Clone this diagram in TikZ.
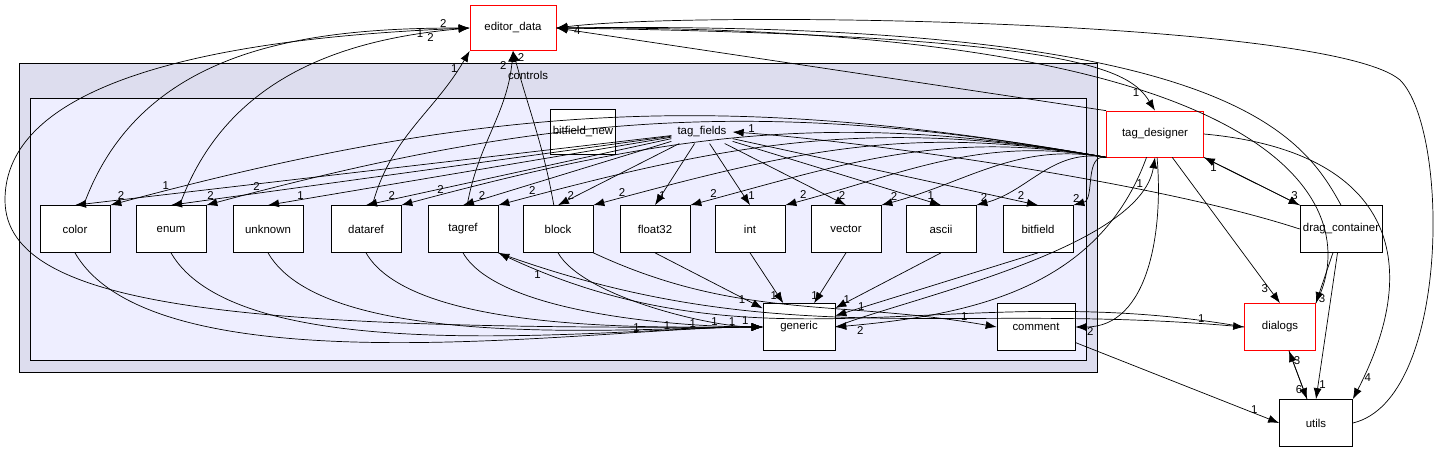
\documentclass[tikz,border=0pt]{standalone}
\usepackage{fontspec}
\setmainfont{Liberation Sans}
\usetikzlibrary{arrows.meta, positioning}
\definecolor{outerfill}{HTML}{DDDDEE}
\definecolor{innerfill}{HTML}{EEEEFF}
\definecolor{redborder}{HTML}{FF0000}
\tikzset{
    dir/.style={draw, fill=white, minimum width=1.4cm, minimum height=0.94cm, inner sep=0mm},
    reddir/.style={dir, draw=redborder},
    lbl/.style={font=\fontsize{6.5}{7}\selectfont, inner sep=0.5pt, fill=none},
    dep/.style={->, >={Latex[length=2.2mm, width=1.6mm]}}
}
\begin{document}
\begin{tikzpicture}[x=0.02cm, y=-0.02cm, font=\fontsize{6.5}{7}\selectfont]
    \useasboundingbox (0,0) rectangle (1456,452);
    % clusters
    \draw[fill=outerfill] (19,63) rectangle (1097,372);
    \node[lbl] (controlslbl) at (528,75) {controls};
    \draw[fill=innerfill] (30,98) rectangle (1086,360);
    % nodes
    \node[reddir, minimum width=1.72cm, minimum height=0.9cm] (editor_data) at (513,28) {editor\_data};
    \node[dir, minimum width=1.3cm, minimum height=0.9cm] (bitfield_new) at (583,132) {bitfield\_new};
    \node (tag_fields) at (702,132) {tag\_fields};
    \node[dir] (color) at (75,229) {color};
    \node[dir] (enum) at (171,229) {enum};
    \node[dir] (unknown) at (268,229) {unknown};
    \node[dir] (dataref) at (366,229) {dataref};
    \node[dir] (tagref) at (463,229) {tagref};
    \node[dir] (block) at (558,229) {block};
    \node[dir] (float32) at (655,229) {float32};
    \node[dir] (int) at (750,229) {int};
    \node[dir] (vector) at (846,229) {vector};
    \node[dir] (ascii) at (941,229) {ascii};
    \node[dir] (bitfield) at (1038,229) {bitfield};
    \node[dir, minimum width=1.44cm] (generic) at (799,327) {generic};
    \node[dir, minimum width=1.56cm] (comment) at (1036,327) {comment};
    \node[reddir, minimum width=1.94cm, minimum height=0.92cm] (tag_designer) at (1155,134) {tag\_designer};
    \node[dir, minimum width=1.64cm] (drag_container) at (1341,229) {drag\_container};
    \node[reddir, minimum width=1.42cm] (dialogs) at (1280,327) {dialogs};
    \node[dir, minimum width=1.46cm] (utils) at (1316,423) {utils};
    % tag_fields to row
    \foreach \t/\l in {color/2, enum/2, unknown/1, dataref/2, tagref/2, block/2, float32/1, int/1, vector/2, ascii/1, bitfield/2}
        \draw[dep] (tag_fields) -- node[lbl, pos=0.93, above right] {\l} (\t.north);
    % row to editor_data
    \draw[dep] (color) to[out=70, in=180] node[lbl, pos=0.9, below] {1} (editor_data.west);
    \draw[dep] (enum) to[out=70, in=185] node[lbl, pos=0.9, below] {2} (editor_data.west);
    \draw[dep] (dataref) to[out=75, in=240] node[lbl, pos=0.9, left] {1} (editor_data.south west);
    \draw[dep] (tagref) to[out=80, in=265] node[lbl, pos=0.92, left=2pt] {2} (editor_data.south);
    \draw[dep] (block) to[out=100, in=285] node[lbl, pos=0.96, right=1pt] {2} (editor_data.south);
    \draw[dep] (generic.west) .. controls (250,330) and (5,310) .. (5,200)
        .. controls (5,60) and (300,35) .. node[lbl, pos=0.95, above] {2} (editor_data.west);
    % row to generic
    \foreach \s/\p in {color/0.8, enum/0.82, unknown/0.84, dataref/0.86, tagref/0.88, block/0.9}
        \draw[dep] (\s.south) to[out=-60, in=180, looseness=0.6] node[lbl, pos=\p, above] {1} (generic.west);
    \foreach \s in {float32, int, vector, ascii, bitfield}
        \draw[dep] (\s.south) -- node[lbl, pos=0.85, left] {1} (generic);
    % tagref, block, dialogs, comment
    \draw[dep] (tagref.south east) to[out=-20, in=175] node[lbl, pos=0.95, above] {1} (dialogs.west);
    \draw[dep] (dialogs.west) to[out=170, in=-25] node[lbl, pos=0.95, below] {1} (tagref.south east);
    \draw[dep] (block.south east) to[out=-25, in=170] node[lbl, pos=0.93, above] {1} (comment.west);
    % tag_designer outgoing
    \foreach \t/\l in {color/1, enum/2, dataref/2, tagref/2, block/2, float32/2, int/2, vector/2, ascii/2, bitfield/2}
        \draw[dep] (tag_designer.south west) to[out=170, in=15] node[lbl, pos=0.95, above] {\l} (\t.north east);
    \draw[dep] (tag_designer.north west) -- node[lbl, pos=0.97, right] {4} (editor_data.east);
    \draw[dep] (tag_designer) to[out=-110, in=5] node[lbl, pos=0.95, below right] {2} (generic.east);
    \draw[dep] (tag_designer) to[out=-85, in=0] node[lbl, pos=0.95, below right] {2} (comment.east);
    \draw[dep] (tag_designer) -- node[lbl, pos=0.9, left] {3} (dialogs.north);
    \draw[dep] (tag_designer.south east) -- node[lbl, pos=0.9, above right] {3} (drag_container.north west);
    \draw[dep] (tag_designer.east) .. controls (1380,150) and (1430,250) .. node[lbl, pos=0.95, right] {4} (utils.north east);
    % incoming to tag_designer
    \draw[dep] (editor_data.east) .. controls (1080,35) and (1130,70) .. node[lbl, pos=0.85, left] {1} (tag_designer.north);
    \draw[dep] (generic.east) .. controls (900,300) and (1140,250) .. node[lbl, pos=0.9, left] {1} (tag_designer.south);
    \draw[dep] (drag_container.north west) -- node[lbl, pos=0.9, below] {1} (tag_designer.south east);
    % drag_container
    \draw[dep] (drag_container.west) .. controls (1150,180) and (850,140) .. node[lbl, pos=0.95, above] {1} (tag_fields.east);
    \draw[dep] (drag_container) -- node[lbl, pos=0.9, right] {3} (dialogs.north east);
    \draw[dep] (drag_container) -- node[lbl, pos=0.9, right] {1} (utils.north);
    \draw[dep] (drag_container.north) .. controls (1300,130) and (1220,20) .. (editor_data.east);
    % dialogs, utils, comment
    \draw[dep] (dialogs.north east) .. controls (1360,220) and (1320,25) .. (editor_data.east);
    \draw[dep] (dialogs) -- node[lbl, pos=0.8, left] {6} (utils);
    \draw[dep] (utils) -- node[lbl, pos=0.8, right] {3} (dialogs);
    \draw[dep] (utils.east) .. controls (1450,400) and (1450,130) .. (1400,80)
        .. controls (1330,20) and (700,10) .. (editor_data.east);
    \draw[dep] (comment) -- node[lbl, pos=0.9, above left] {1} (utils.west);
\end{tikzpicture}
\end{document}
